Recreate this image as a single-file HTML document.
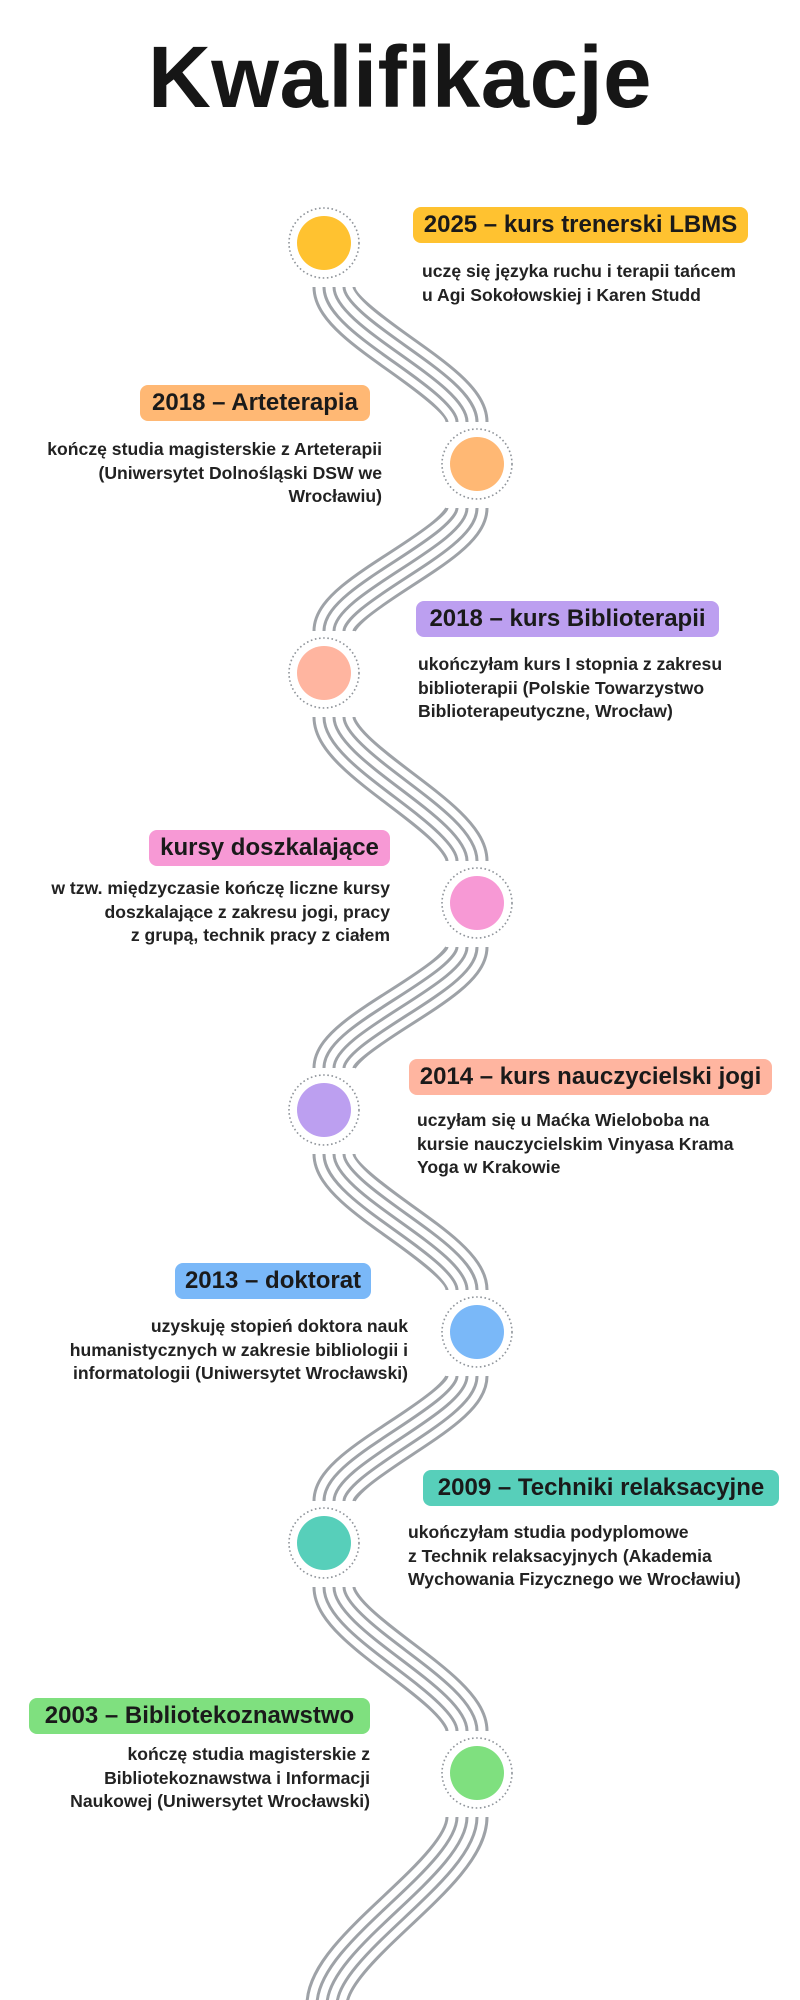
<!DOCTYPE html>
<html><head><meta charset="utf-8"><style>
body{margin:0;background:#fff;}
#c{position:relative;width:800px;height:2000px;overflow:hidden;font-family:"Liberation Sans",sans-serif;color:#1a1a1a;}
.t{position:absolute;left:0;width:800px;top:28px;text-align:center;font-size:87px;font-weight:bold;line-height:100px;letter-spacing:0.5px;color:#161616;}
.b{position:absolute;height:36px;line-height:36px;font-size:24px;font-weight:bold;border-radius:8px;text-align:center;white-space:nowrap;color:#1a1a1a;}
.d{position:absolute;font-size:17.6px;font-weight:bold;line-height:23.5px;white-space:nowrap;color:#222;}
.r{text-align:right;}
svg{position:absolute;left:0;top:0;}
</style></head><body><div id="c">
<svg width="800" height="2000" viewBox="0 0 800 2000">
<g fill="none" id="lines"></g>
<g id="circ"></g>
</svg>
<div class="t">Kwalifikacje</div>

<div class="b" style="left:413px;top:207px;width:335px;background:#FFC230">2025 – kurs trenerski LBMS</div>
<div class="d" style="left:422px;top:260px">uczę się języka ruchu i terapii tańcem<br>u Agi Sokołowskiej i Karen Studd</div>

<div class="b" style="left:140px;top:385px;width:230px;background:#FFB874">2018 – Arteterapia</div>
<div class="d r" style="right:418px;top:438px">kończę studia magisterskie z Arteterapii<br>(Uniwersytet Dolnośląski DSW we<br>Wrocławiu)</div>

<div class="b" style="left:416px;top:601px;width:303px;background:#BC9FF0">2018 – kurs Biblioterapii</div>
<div class="d" style="left:418px;top:653px">ukończyłam kurs I stopnia z zakresu<br>biblioterapii (Polskie Towarzystwo<br>Biblioterapeutyczne, Wrocław)</div>

<div class="b" style="left:149px;top:830px;width:241px;background:#F799D5">kursy doszkalające</div>
<div class="d r" style="right:410px;top:877px">w tzw. międzyczasie kończę liczne kursy<br>doszkalające z zakresu jogi, pracy<br>z grupą, technik pracy z ciałem</div>

<div class="b" style="left:409px;top:1059px;width:363px;background:#FFB5A0">2014 – kurs nauczycielski jogi</div>
<div class="d" style="left:417px;top:1109px">uczyłam się u Maćka Wieloboba na<br>kursie nauczycielskim Vinyasa Krama<br>Yoga w Krakowie</div>

<div class="b" style="left:175px;top:1263px;width:196px;background:#7AB8F8">2013 – doktorat</div>
<div class="d r" style="right:392px;top:1315px">uzyskuję stopień doktora nauk<br>humanistycznych w zakresie bibliologii i<br>informatologii (Uniwersytet Wrocławski)</div>

<div class="b" style="left:423px;top:1470px;width:356px;background:#57CFBA">2009 – Techniki relaksacyjne</div>
<div class="d" style="left:408px;top:1521px">ukończyłam studia podyplomowe<br>z Technik relaksacyjnych (Akademia<br>Wychowania Fizycznego we Wrocławiu)</div>

<div class="b" style="left:29px;top:1698px;width:341px;background:#7FE07F">2003 – Bibliotekoznawstwo</div>
<div class="d r" style="right:430px;top:1743px">kończę studia magisterskie z<br>Bibliotekoznawstwa i Informacji<br>Naukowej (Uniwersytet Wrocławski)</div>
</div>
<script>
var pts=[[324,243,'#FFC230'],[477,464,'#FFB874'],[324,673,'#FFB5A0'],[477,903,'#F799D5'],[324,1110,'#BC9FF0'],[477,1332,'#7AB8F8'],[324,1543,'#57CFBA'],[477,1773,'#7FE07F']];
var ns='http://www.w3.org/2000/svg',L=document.getElementById('lines'),C=document.getElementById('circ');
var layers=[[43,'#9ea2a7'],[37,'#fff'],[23,'#9ea2a7'],[17,'#fff'],[3,'#9ea2a7']];
function seg(x0,y0,x1,y1){var h=y1-y0,d=h*0.3;var dd='M'+x0+' '+y0+' C'+x0+' '+(y0+d)+' '+x1+' '+(y1-d)+' '+x1+' '+y1;
for(var j=0;j<layers.length;j++){var p=document.createElementNS(ns,'path');p.setAttribute('d',dd);p.setAttribute('stroke-width',layers[j][0]);p.setAttribute('stroke',layers[j][1]);L.appendChild(p);}}
for(var i=0;i<pts.length;i++){var a=pts[i],b=pts[i+1];
if(b){var dir=b[0]>a[0]?1:-1;seg(a[0]+10*dir,a[1]+44,b[0]-10*dir,b[1]-42);}
else{seg(a[0]-10,a[1]+44,327,2005);}
var r=document.createElementNS(ns,'circle');r.setAttribute('cx',a[0]);r.setAttribute('cy',a[1]);r.setAttribute('r',38);r.setAttribute('fill','#fff');C.appendChild(r);
var o=document.createElementNS(ns,'circle');o.setAttribute('cx',a[0]);o.setAttribute('cy',a[1]);o.setAttribute('r',35);o.setAttribute('fill','none');o.setAttribute('stroke','#8f949a');o.setAttribute('stroke-width','1.6');o.setAttribute('stroke-dasharray','1.6 2.6');C.appendChild(o);
var f=document.createElementNS(ns,'circle');f.setAttribute('cx',a[0]);f.setAttribute('cy',a[1]);f.setAttribute('r',27);f.setAttribute('fill',a[2]);C.appendChild(f);}
</script>
</body></html>
